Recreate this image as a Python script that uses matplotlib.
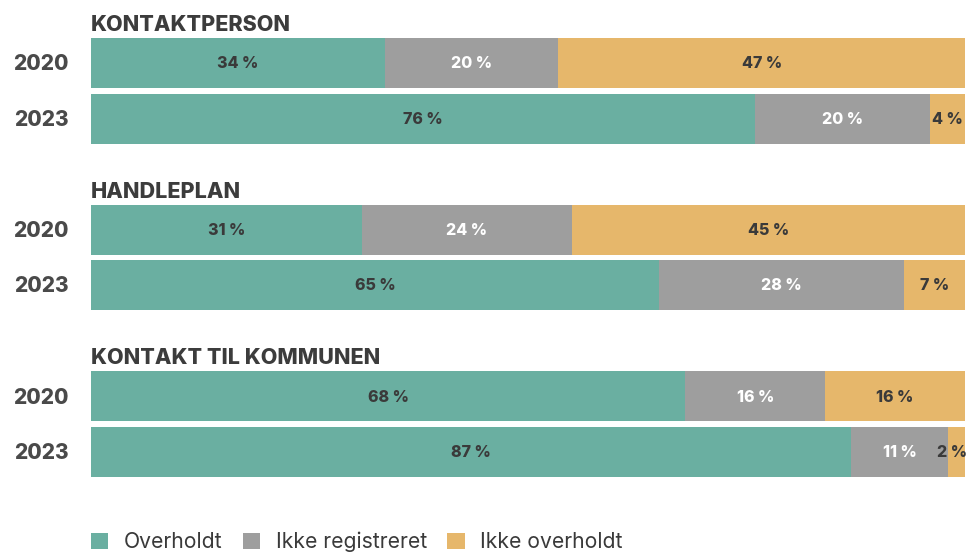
import matplotlib
matplotlib.use("Agg")
import matplotlib.pyplot as plt
from matplotlib.patches import Patch
import numpy as np

plt.rcParams['font.family'] = ['Inter', 'DejaVu Sans']

groups = ["KONTAKTPERSON", "HANDLEPLAN", "KONTAKT TIL KOMMUNEN"]
years = ["2020", "2023"]
categories = ["Overholdt", "Ikke registreret", "Ikke overholdt"]
overholdt = [[34, 76], [31, 65], [68, 87]]
ikke_registreret = [[20, 20], [24, 28], [16, 11]]
ikke_overholdt = [[47, 4], [45, 7], [16, 2]]

colors = ["#6AAFA1", "#9E9E9E", "#E6B76B"]
label_colors = ["#3A3A3A", "#FFFFFF", "#3A3A3A"]
dark = "#3C3C3C"

W, H = 970, 553
fig = plt.figure(figsize=(W / 100, H / 100), dpi=100)
left, width = 91, 874
ax = fig.add_axes([left / W, 0, width / W, 1])
ax.set_xlim(0, 1)
ax.set_ylim(H, 0)
ax.axis('off')

bar_h = 50
group_step = 166.5
row_step = 55.5
first_center = 63

series = [overholdt, ikke_registreret, ikke_overholdt]
for g, gname in enumerate(groups):
    top_center = first_center + g * group_step
    ax.text(0, top_center - bar_h / 2 - 13, gname, fontsize=15.5, fontweight='heavy',
            color=dark, ha='left', va='center')
    for r, yr in enumerate(years):
        yc = top_center + r * row_step
        vals = np.array([s[g][r] for s in series], dtype=float)
        frac = vals / vals.sum()
        lefts = np.concatenate([[0], np.cumsum(frac)[:-1]])
        ax.barh(yc, frac, left=lefts, height=bar_h, color=colors,
                edgecolor='none')
        for k in range(3):
            cx = lefts[k] + frac[k] / 2
            ha = 'center'
            if frac[k] < 0.03:
                cx = 1 + 2 / width
                ha = 'right'
            ax.text(cx, yc + 1, f"{int(vals[k])} %", fontsize=11.5, fontweight='heavy',
                    color=label_colors[k], ha=ha, va='center')
        ax.text(-22 / width, yc + 1.5, yr, fontsize=15, fontweight='heavy',
                color="#4A4A4A", ha='right', va='center')

handles = [Patch(facecolor=c, edgecolor='none') for c in colors]
fig.legend(handles, categories, loc='center left',
           bbox_to_anchor=(91 / W, 1 - 542 / H), ncol=3, frameon=False,
           fontsize=15.2, handlelength=0.82, handleheight=0.82,
           handletextpad=0.75, columnspacing=0.95, labelcolor="#3A3A3A",
           borderaxespad=0, borderpad=0)

fig.savefig("out.png", dpi=100)
